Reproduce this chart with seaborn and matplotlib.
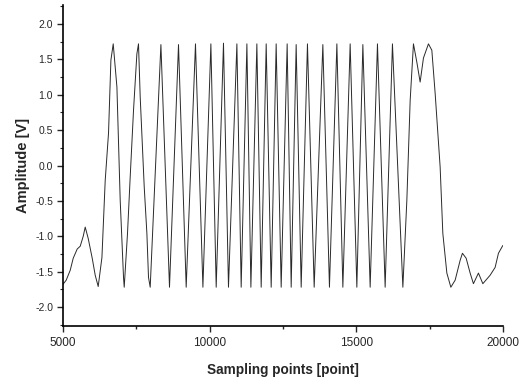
import matplotlib
matplotlib.use("Agg")
import matplotlib.pyplot as plt
import seaborn as sns
import numpy as np
import pandas as pd
from matplotlib.ticker import MultipleLocator

# values
# slow start before the sweep
head_x = [5000, 5112, 5249, 5351, 5487, 5590, 5692, 5760, 5862, 5999, 6101, 6203]
head_y = [-1.68, -1.62, -1.48, -1.31, -1.18, -1.14, -1.00, -0.87, -1.03, -1.31, -1.55, -1.71]

# edge points of the first two (wide) cycles
edge_x = [6330, 6442, 6555, 6636, 6841, 6953, 7066, 7202, 7294, 7407, 7522, 7635, 7772, 7863, 7918]
edge_y = [-1.30, -0.21, 0.46, 1.49, 1.11, -0.49, -1.58, -0.96, -0.16, 0.78, 1.58, 0.97, -0.30, -0.96, -1.58]

# clipped peaks and troughs of the sweep
peak_x = [6715, 7577, 8341, 8941, 9520, 10045, 10475, 10932, 11273, 11613, 11931,
          12271, 12646, 12953, 13338, 13863, 14341, 14794, 15227, 15725, 16236]
peak_y = [1.72, 1.72, 1.71, 1.71, 1.72, 1.72, 1.73, 1.72, 1.72, 1.72, 1.72,
          1.72, 1.72, 1.71, 1.72, 1.71, 1.72, 1.72, 1.71, 1.72, 1.72]
trough_x = [7090, 7976, 8634, 9203, 9773, 10226, 10645, 11078, 11409, 11760, 12101,
            12442, 12783, 13124, 13567, 14088, 14545, 15022, 15476, 15987, 16591]
trough_y = [-1.72, -1.72, -1.72, -1.72, -1.72, -1.72, -1.72, -1.72, -1.72, -1.72, -1.72,
            -1.72, -1.72, -1.72, -1.72, -1.72, -1.72, -1.72, -1.72, -1.72, -1.72]

# double hump and decay at the end
tail_x = [16727, 16840, 16952, 17068, 17180, 17293, 17463, 17579, 17692, 17862, 17954,
          18091, 18227, 18374, 18544, 18622, 18749, 18885, 18997, 19168, 19318, 19567,
          19737, 19850, 20000]
tail_y = [-0.49, 0.92, 1.72, 1.46, 1.18, 1.52, 1.72, 1.63, 1.02, -0.02, -0.96,
          -1.52, -1.72, -1.62, -1.34, -1.24, -1.31, -1.52, -1.67, -1.52, -1.67, -1.55,
          -1.44, -1.24, -1.13]

df = pd.DataFrame({
    "x": head_x + edge_x + peak_x + trough_x + tail_x,
    "y": head_y + edge_y + peak_y + trough_y + tail_y,
}).sort_values("x")

sns.set_style("ticks")
plt.rcParams["font.family"] = ["Liberation Sans", "DejaVu Sans"]

fig = plt.figure(figsize=(5.2, 3.81), dpi=100)
ax = fig.add_axes([0.121, 0.144, 0.846, 0.843])

sns.lineplot(data=df, x="x", y="y", sort=False, estimator=None,
             color="#2a2a2a", linewidth=0.7, ax=ax)

ax.set_xlim(5000, 20000)
ax.set_ylim(-2.27, 2.27)
ax.xaxis.set_major_locator(MultipleLocator(5000))
ax.xaxis.set_minor_locator(MultipleLocator(2500))
ax.yaxis.set_major_locator(MultipleLocator(0.5))
ax.yaxis.set_minor_locator(MultipleLocator(0.25))
ax.tick_params(axis="x", which="major", direction="out", length=4, width=1, labelsize=8.5, pad=4)
ax.tick_params(axis="x", which="minor", direction="out", length=2.5, width=1)
ax.tick_params(axis="y", which="major", direction="out", length=4, width=1, labelsize=7.5, pad=3)
ax.tick_params(axis="y", which="minor", direction="out", length=2, width=0.8)
ax.yaxis.set_major_formatter(matplotlib.ticker.FormatStrFormatter("%.1f"))

sns.despine(ax=ax)
for s in ["left", "bottom"]:
    ax.spines[s].set_linewidth(1.2)
    ax.spines[s].set_color("black")

ax.set_xlabel("Sampling points [point]", fontsize=9.8, fontweight="bold", labelpad=10)
ax.set_ylabel("Amplitude [V]", fontsize=10.5, fontweight="bold", labelpad=4)

fig.savefig("out.png", dpi=100)
